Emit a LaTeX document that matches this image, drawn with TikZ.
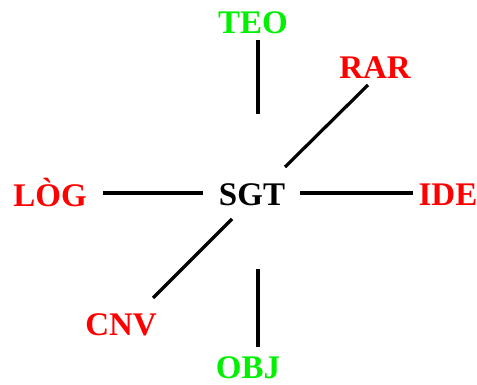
\documentclass[tikz,border=0pt]{standalone}
\usepackage{fontspec}
\setmainfont{Liberation Serif}
\definecolor{lgreen}{RGB}{0,240,0}
\definecolor{lred}{RGB}{255,0,0}
\begin{document}
\begin{tikzpicture}[x=1pt,y=-1pt,
  lbl/.style={font=\fontsize{33}{33}\selectfont\bfseries, inner sep=0pt, anchor=center},
  grn/.style={lbl,text=lgreen},
  rd/.style={lbl,text=lred},
  conn/.style={line width=3.2pt, black}]
\useasboundingbox (0,0) rectangle (477,385);
\node[lbl] (sgt) at (252,195) {SGT};
\node[grn] (teo) at (253,23) {TEO};
\node[rd] (rar) at (375,68) {RAR};
\node[rd] (log) at (50,193) {LÒG};
\node[rd] (ide) at (448,195) {IDE};
\node[rd] (cnv) at (121,325) {CNV};
\node[grn] (obj) at (248,368) {OBJ};
\coordinate (teoA) at (258,40); \coordinate (teoB) at (258,114);
\coordinate (rarA) at (368,85); \coordinate (rarB) at (285,167);
\coordinate (logA) at (103,193); \coordinate (logB) at (203,193);
\coordinate (ideA) at (300,193); \coordinate (ideB) at (413,193);
\coordinate (cnvA) at (232,219); \coordinate (cnvB) at (153,298);
\coordinate (objA) at (258,269); \coordinate (objB) at (258,347);
\draw[conn] (teoA) -- (teoB);
\draw[conn] (rarA) -- (rarB);
\draw[conn] (logA) -- (logB);
\draw[conn] (ideA) -- (ideB);
\draw[conn] (cnvA) -- (cnvB);
\draw[conn] (objA) -- (objB);
\end{tikzpicture}
\end{document}
